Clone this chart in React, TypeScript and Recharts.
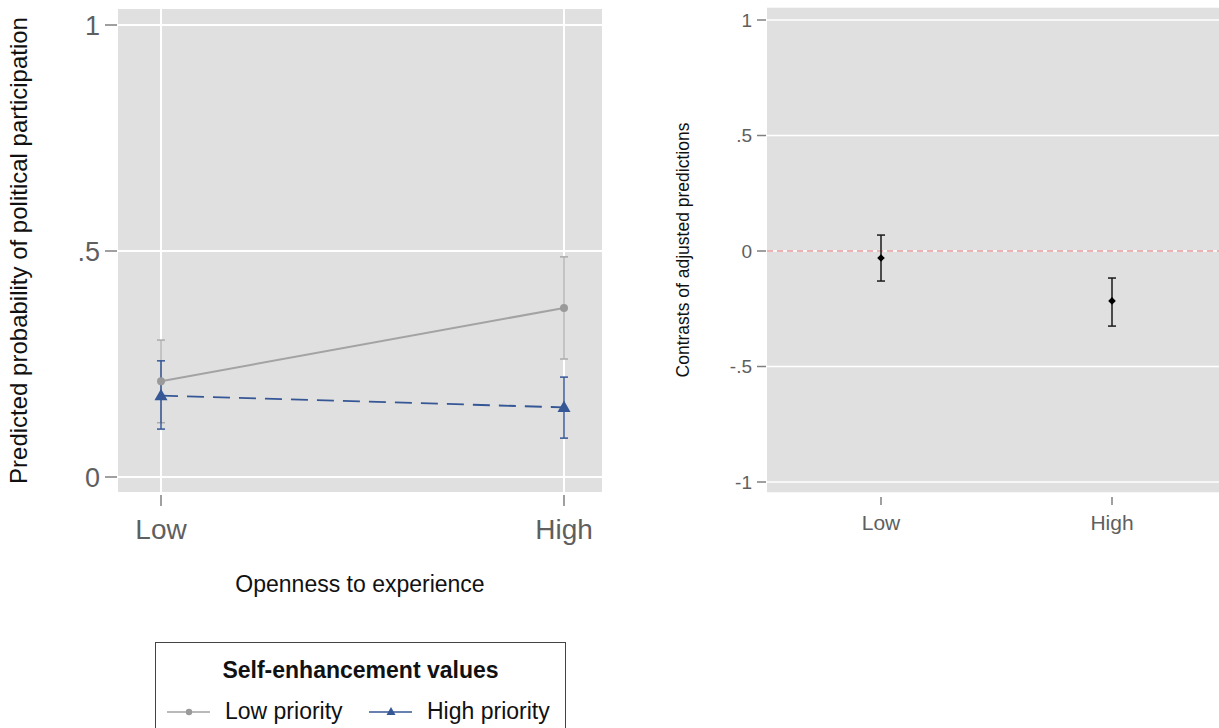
import React from 'react';
import {
  ComposedChart,
  Line,
  Scatter,
  XAxis,
  YAxis,
  CartesianGrid,
  ErrorBar,
  ReferenceLine,
  Label,
} from 'recharts';

// ---------- Data ----------
const categories = ['Low', 'High'];
const categoryPositions = [0, 1];
const seriesNames = ['Low priority', 'High priority'];

// Left panel: predicted probability of political participation
const lowPriorityMargins = [0.212, 0.374];
const lowPriorityLower = [0.12, 0.261];
const lowPriorityUpper = [0.303, 0.487];
const highPriorityMargins = [0.18, 0.154];
const highPriorityLower = [0.106, 0.086];
const highPriorityUpper = [0.257, 0.221];

const leftYTicks = [0, 0.5, 1];
const leftYTickLabels = ['0', '.5', '1'];

// Right panel: contrasts of adjusted predictions
const contrastValues = [-0.03, -0.216];
const contrastLower = [-0.13, -0.325];
const contrastUpper = [0.069, -0.117];

const rightYTicks = [-1, -0.5, 0, 0.5, 1];
const rightYTickLabels = ['-1', '-.5', '0', '.5', '1'];

// ---------- Styling ----------
const FONT = '"Liberation Sans", Arial, Helvetica, sans-serif';
const BG = '#e0e0e0';
const GRAY = '#a3a3a3';
const BLUE = '#365796';
const TICK_TEXT = '#5f5f5f';
const TICK_LINE = '#808080';

const leftData = categoryPositions.map((x, i) => ({
  x,
  low: lowPriorityMargins[i],
  lowErr: [lowPriorityMargins[i] - lowPriorityLower[i], lowPriorityUpper[i] - lowPriorityMargins[i]],
  high: highPriorityMargins[i],
  highErr: [highPriorityMargins[i] - highPriorityLower[i], highPriorityUpper[i] - highPriorityMargins[i]],
}));

const rightData = categoryPositions.map((x, i) => ({
  x,
  y: contrastValues[i],
  err: [contrastValues[i] - contrastLower[i], contrastUpper[i] - contrastValues[i]],
}));

const catLabel = (v: number) => categories[categoryPositions.indexOf(v)] ?? '';
const leftYLabel = (v: number) => leftYTickLabels[leftYTicks.indexOf(v)] ?? String(v);
const rightYLabel = (v: number) => rightYTickLabels[rightYTicks.indexOf(v)] ?? String(v);

// ---------- Custom ticks ----------
const LeftXTick = (props: any) => {
  const { x, y, payload } = props;
  return (
    <g>
      <line x1={x} x2={x} y1={y + 2} y2={y + 13} stroke={TICK_LINE} strokeWidth={1.5} />
      <text x={x} y={y + 46} textAnchor="middle" fontSize={28} fill={TICK_TEXT} fontFamily={FONT}>
        {catLabel(payload.value)}
      </text>
    </g>
  );
};

const LeftYTick = (props: any) => {
  const { x, y, payload } = props;
  return (
    <g>
      <line x1={x - 12} x2={x} y1={y} y2={y} stroke={TICK_LINE} strokeWidth={1.5} />
      <text x={x - 17} y={y} dy="0.36em" textAnchor="end" fontSize={27} fill={TICK_TEXT} fontFamily={FONT}>
        {leftYLabel(payload.value)}
      </text>
    </g>
  );
};

const RightXTick = (props: any) => {
  const { x, y, payload } = props;
  return (
    <g>
      <line x1={x} x2={x} y1={y + 4} y2={y + 12} stroke={TICK_LINE} strokeWidth={1.5} />
      <text x={x} y={y + 37} textAnchor="middle" fontSize={21} fill={TICK_TEXT} fontFamily={FONT}>
        {catLabel(payload.value)}
      </text>
    </g>
  );
};

const RightYTick = (props: any) => {
  const { x, y, payload } = props;
  return (
    <g>
      <line x1={x - 10} x2={x - 1} y1={y} y2={y} stroke={TICK_LINE} strokeWidth={1.5} />
      <text x={x - 15} y={y} dy="0.36em" textAnchor="end" fontSize={19} fill={TICK_TEXT} fontFamily={FONT}>
        {rightYLabel(payload.value)}
      </text>
    </g>
  );
};

// ---------- Markers ----------
const GrayDot = (props: any) => {
  const { cx, cy, index } = props;
  if (cx == null || cy == null) return <g key={`g-${index}`} />;
  return <circle key={`g-${index}`} cx={cx} cy={cy} r={4} fill="#9a9a9a" stroke="none" />;
};

const BlueTriangle = (props: any) => {
  const { cx, cy, index } = props;
  if (cx == null || cy == null) return <g key={`b-${index}`} />;
  return (
    <path
      key={`b-${index}`}
      d={`M${cx},${cy - 7} L${cx + 6.5},${cy + 4.5} L${cx - 6.5},${cy + 4.5} Z`}
      fill={BLUE}
      stroke="none"
    />
  );
};

const Diamond = (props: any) => {
  const { cx, cy } = props;
  if (cx == null || cy == null) return <g />;
  return <path d={`M${cx},${cy - 3.8} L${cx + 3.8},${cy} L${cx},${cy + 3.8} L${cx - 3.8},${cy} Z`} fill="#000" />;
};

// ---------- Axis titles ----------
const LeftYTitle = (props: any) => {
  const vb = props.viewBox || { x: 0, y: 8, width: 117, height: 485 };
  const cx = vb.x + 27;
  const cy = vb.y + vb.height / 2;
  return (
    <text x={cx} y={cy} transform={`rotate(-90, ${cx}, ${cy})`} textAnchor="middle" fontSize={24} fill="#111" fontFamily={FONT}>
      Predicted probability of political participation
    </text>
  );
};

const LeftXTitle = (props: any) => {
  const vb = props.viewBox || { x: 117, y: 493, width: 486, height: 127 };
  return (
    <text x={vb.x + vb.width / 2} y={vb.y + 99} textAnchor="middle" fontSize={23} fill="#111" fontFamily={FONT}>
      Openness to experience
    </text>
  );
};

const RightYTitle = (props: any) => {
  const vb = props.viewBox || { x: 0, y: 7, width: 157, height: 486 };
  const cx = vb.x + 79;
  const cy = vb.y + vb.height / 2;
  return (
    <text x={cx} y={cy} transform={`rotate(-90, ${cx}, ${cy})`} textAnchor="middle" fontSize={17.5} fill="#111" fontFamily={FONT}>
      Contrasts of adjusted predictions
    </text>
  );
};

// ---------- Legend ----------
const LegendBox = () => (
  <div
    style={{
      position: 'absolute',
      left: 155,
      top: 642,
      width: 411,
      height: 120,
      border: '1.5px solid #444',
      boxSizing: 'border-box',
      background: '#fff',
      fontFamily: FONT,
      color: '#111',
    }}
  >
    <div
      style={{
        position: 'absolute',
        left: 0,
        width: '100%',
        top: 13,
        textAlign: 'center',
        fontWeight: 'bold',
        fontSize: 23,
        lineHeight: '28px',
      }}
    >
      Self-enhancement values
    </div>
    <svg style={{ position: 'absolute', left: 10, top: 60 }} width={46} height={18}>
      <line x1={1} x2={44} y1={9} y2={9} stroke={GRAY} strokeWidth={1.5} />
      <circle cx={23} cy={9} r={3.2} fill="#9a9a9a" />
    </svg>
    <div style={{ position: 'absolute', left: 69, top: 54, fontSize: 23, lineHeight: '28px', whiteSpace: 'nowrap' }}>
      {seriesNames[0]}
    </div>
    <svg style={{ position: 'absolute', left: 212, top: 60 }} width={46} height={18}>
      <line x1={1} x2={44} y1={9} y2={9} stroke={BLUE} strokeWidth={1.5} />
      <path d="M23,4 L27.5,12 L18.5,12 Z" fill={BLUE} />
    </svg>
    <div style={{ position: 'absolute', left: 271, top: 54, fontSize: 23, lineHeight: '28px', whiteSpace: 'nowrap' }}>
      {seriesNames[1]}
    </div>
  </div>
);

export default function App() {
  return (
    <div
      style={{
        position: 'fixed',
        left: 0,
        top: 0,
        width: 1219,
        height: 728,
        overflow: 'hidden',
        background: '#fff',
        fontFamily: FONT,
      }}
    >
      <div style={{ position: 'absolute', left: 0, top: 0 }}>
        <ComposedChart width={610} height={620} data={leftData} margin={{ top: 8, right: 7, bottom: 0, left: 0 }}>
          <CartesianGrid fill={BG} fillOpacity={1} stroke="#ffffff" strokeWidth={2} horizontal vertical />
          <XAxis
            dataKey="x"
            type="number"
            domain={[-0.1092, 1.0968]}
            allowDataOverflow
            ticks={categoryPositions}
            interval={0}
            height={127}
            axisLine={false}
            tickLine={false}
            tickSize={0}
            tickMargin={0}
            tick={LeftXTick}
          >
            <Label content={LeftXTitle} />
          </XAxis>
          <YAxis
            type="number"
            domain={[-0.0354, 1.0376]}
            allowDataOverflow
            ticks={leftYTicks}
            interval={0}
            width={117}
            axisLine={false}
            tickLine={false}
            tickSize={0}
            tickMargin={0}
            tick={LeftYTick}
          >
            <Label content={LeftYTitle} />
          </YAxis>
          <Line
            dataKey="low"
            stroke={GRAY}
            strokeWidth={2}
            dot={GrayDot}
            activeDot={false}
            isAnimationActive={false}
          >
            <ErrorBar dataKey="lowErr" direction="y" width={4} stroke={GRAY} strokeWidth={1.3} isAnimationActive={false} />
          </Line>
          <Line
            dataKey="high"
            stroke={BLUE}
            strokeWidth={1.8}
            strokeDasharray="17 9"
            dot={BlueTriangle}
            activeDot={false}
            isAnimationActive={false}
          >
            <ErrorBar dataKey="highErr" direction="y" width={4} stroke={BLUE} strokeWidth={1.5} isAnimationActive={false} />
          </Line>
        </ComposedChart>
      </div>

      <div style={{ position: 'absolute', left: 610, top: 0 }}>
        <ComposedChart width={616} height={560} data={rightData} margin={{ top: 7, right: 0, bottom: 0, left: 0 }}>
          <CartesianGrid fill={BG} fillOpacity={1} stroke="#ffffff" strokeWidth={1.5} horizontal vertical={false} />
          <XAxis
            dataKey="x"
            type="number"
            domain={[-0.4935, 1.4935]}
            allowDataOverflow
            ticks={categoryPositions}
            interval={0}
            height={67}
            axisLine={false}
            tickLine={false}
            tickSize={0}
            tickMargin={0}
            tick={RightXTick}
          />
          <YAxis
            type="number"
            dataKey="y"
            domain={[-1.0476, 1.0563]}
            allowDataOverflow
            ticks={rightYTicks}
            interval={0}
            width={157}
            axisLine={false}
            tickLine={false}
            tickSize={0}
            tickMargin={0}
            tick={RightYTick}
          >
            <Label content={RightYTitle} />
          </YAxis>
          <ReferenceLine y={0} stroke="#e99a9a" strokeWidth={1.5} strokeDasharray="6 4" />
          <Scatter dataKey="y" fill="#000" shape={Diamond} isAnimationActive={false}>
            <ErrorBar dataKey="err" direction="y" width={4} stroke="#1a1a1a" strokeWidth={1.5} isAnimationActive={false} />
          </Scatter>
        </ComposedChart>
      </div>

      <LegendBox />
    </div>
  );
}
